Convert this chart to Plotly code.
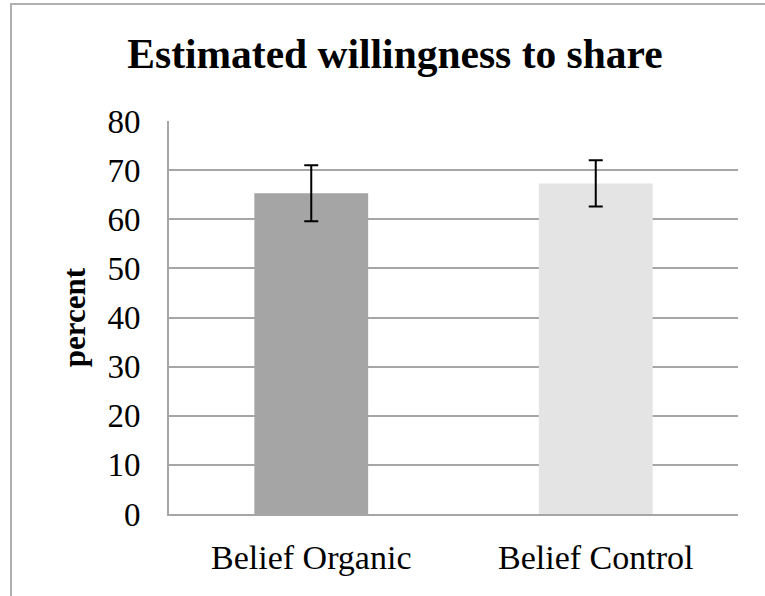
import plotly.graph_objects as go

categories = ["Belief Organic", "Belief Control"]
values = [65.3, 67.3]
errors = [5.7, 4.7]
bar_colors = ["#a5a5a5", "#e4e4e4"]
y_ticks = [0, 10, 20, 30, 40, 50, 60, 70, 80]

W, H = 765, 596
L, R, T, B = 169, 27, 121, 82
FONT = "Liberation Serif"

fig = go.Figure(go.Bar(
    x=categories, y=values,
    marker=dict(color=bar_colors, line=dict(width=0)),
    error_y=dict(type="data", array=errors, visible=True,
                 color="black", thickness=2, width=7),
    width=0.4,
))

ph = H - T - B
pw = W - L - R
fig.add_shape(type="path", xref="paper", yref="paper",
              path="M {x0},{y0} L {x0},{y1} L {x2},{y1}".format(
                  x0=(11 - L) / pw, y0=-0.5, y1=(H - B - 4) / ph, x2=2.0),
              line=dict(color="#b0b0b0", width=2),
              layer="below")

fig.update_layout(
    width=W, height=H,
    margin=dict(l=L, r=R, t=T, b=B, pad=0),
    paper_bgcolor="white", plot_bgcolor="white",
    font=dict(family=FONT, color="black"),
    showlegend=False,
    title=dict(text="<b>Estimated willingness to share</b>",
               font=dict(family=FONT, size=41.5, color="black"),
               x=395 / W, xanchor="center", xref="container",
               y=(H - 53) / H, yanchor="middle", yref="container"),
    xaxis=dict(showgrid=False, showline=True, linecolor="#a6a6a6", linewidth=2,
               tickfont=dict(family=FONT, size=34, color="black"),
               ticks="", ticklabelstandoff=12),
    yaxis=dict(range=[0, 80], tickvals=y_ticks, showgrid=True,
               gridcolor="#a6a6a6", gridwidth=2, zeroline=False,
               showline=True, linecolor="#a6a6a6", linewidth=2,
               tickfont=dict(family=FONT, size=33, color="black"),
               ticks="", ticklabelstandoff=20,
               title=dict(text="<b>percent</b>", standoff=13,
                          font=dict(family=FONT, size=31, color="black"))),
)

fig.write_html("out.html", config={"displayModeBar": False},
               post_script="document.body.style.margin='0';"
                           "document.body.style.overflow='hidden';"
                           "document.documentElement.style.overflow='hidden';")
